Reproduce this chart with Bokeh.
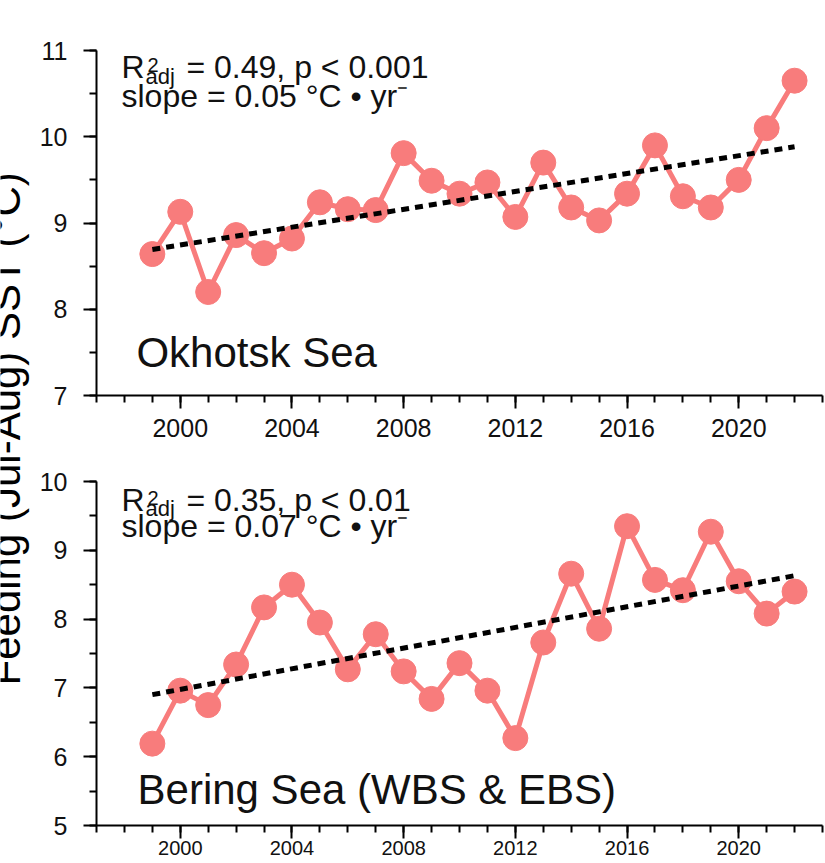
import numpy as np
from bokeh.plotting import figure
from bokeh.models import Range1d, SingleIntervalTicker, Label
from bokeh.layouts import column, row
from bokeh.embed import file_html
from bokeh.resources import INLINE

# ---------------- data ----------------
years = list(range(1999, 2023))
okhotsk_sst = [8.64, 9.13, 8.20, 8.86, 8.65, 8.82, 9.24, 9.16, 9.15, 9.81, 9.49, 9.34,
               9.47, 9.07, 9.70, 9.18, 9.03, 9.34, 9.90, 9.31, 9.18, 9.50, 10.10, 10.65]
bering_sst = [6.19, 6.96, 6.75, 7.34, 8.17, 8.50, 7.95, 7.27, 7.78, 7.24, 6.84, 7.36,
              6.96, 6.27, 7.66, 8.66, 7.86, 9.35, 8.57, 8.42, 9.27, 8.55, 8.08, 8.40]
okhotsk_r2 = "= 0.49, p < 0.001"
okhotsk_slope = "slope = 0.05 °C • yr⁻"
bering_r2 = "= 0.35, p < 0.01"
bering_slope = "slope = 0.07 °C • yr⁻"
panel_names = ["Okhotsk Sea", "Bering Sea (WBS & EBS)"]
y_title = "Feeding (Jul-Aug) SST (°C)"

FONT = "Liberation Sans"
SALMON = "#F87C7C"
LEFT_W = 32
W = 825 - LEFT_W


def make_panel(height, top, bottom, ymin, ymax, values, xlabel_size, xstandoff):
    p = figure(width=W, height=height,
               x_range=Range1d(1997, 2023), y_range=Range1d(ymin, ymax),
               output_backend="svg", toolbar_location=None,
               min_border_left=96 - LEFT_W, min_border_right=3,
               min_border_top=top, min_border_bottom=bottom)
    p.outline_line_color = None
    p.xgrid.visible = False
    p.ygrid.visible = False
    p.background_fill_color = "white"
    p.border_fill_color = "white"

    p.xaxis.ticker = SingleIntervalTicker(interval=4, num_minor_ticks=4)
    p.yaxis.ticker = SingleIntervalTicker(interval=1, num_minor_ticks=2)
    for ax in (p.xaxis, p.yaxis):
        ax.axis_line_width = 2
        ax.axis_line_color = "black"
        ax.major_tick_line_width = 2
        ax.minor_tick_line_width = 2
        ax.major_tick_line_color = "black"
        ax.minor_tick_line_color = "black"
        ax.major_tick_in = 0
        ax.minor_tick_in = 0
        ax.major_tick_out = 13
        ax.minor_tick_out = 7
        ax.major_label_text_font = FONT
        ax.major_label_text_font_size = "25px"
        ax.major_label_text_color = "#111111"
    p.yaxis.major_label_standoff = 16
    p.xaxis.major_label_standoff = xstandoff
    p.xaxis.major_label_text_font_size = xlabel_size

    p.line(years, values, line_color=SALMON, line_width=5)
    p.scatter(years, values, size=25, fill_color=SALMON, line_color=SALMON)

    slope, intercept = np.polyfit(years, values, 1)
    yrs = np.array([years[0], years[-1]], dtype=float)
    p.line(yrs, slope * yrs + intercept, line_color="black", line_width=5,
           line_dash="8 6")
    return p


def txt(p, x, y, text, size, dx=0, dy=0):
    # (x, y) is the text baseline; "bottom" anchors the descent line, so shift down
    p.add_layout(Label(x=x, y=y, x_offset=dx, y_offset=dy - 0.25 * size, text=text,
                       text_font=FONT, text_font_size=f"{size}px", text_color="#111111",
                       text_baseline="bottom", text_align="left"))


def add_stats(p, x, y_r2, y_slope, r2_text, slope_text):
    txt(p, x, y_r2, "R", 32)
    txt(p, x, y_r2, "2", 20, dx=26, dy=10)
    txt(p, x, y_r2, "adj", 22, dx=24, dy=-6)
    txt(p, x, y_r2, r2_text, 32, dx=65)
    txt(p, x, y_slope, slope_text, 32)


# ---------------- left strip holding the shared y title ----------------
pl = figure(width=LEFT_W, height=863, x_range=Range1d(0, LEFT_W), y_range=Range1d(0, 863),
            output_backend="svg", toolbar_location=None,
            x_axis_type=None, y_axis_type=None, min_border=0)
pl.outline_line_color = None
pl.xgrid.visible = False
pl.ygrid.visible = False
pl.add_layout(Label(x=28, y=863 - 428, text=y_title, angle=np.pi / 2,
                    text_align="center", text_baseline="bottom",
                    text_font=FONT, text_font_size="42px", text_color="black"))

# ---------------- top panel: Okhotsk ----------------
p1 = make_panel(455, 50, 60, 7, 11, okhotsk_sst, "25px", 10)
add_stats(p1, 1997.895, 10.687, 10.351, okhotsk_r2, okhotsk_slope)
txt(p1, 1998.43, 7.348, panel_names[0], 42)

# ---------------- bottom panel: Bering ----------------
p2 = make_panel(408, 26, 38, 5, 10, bering_sst, "20px", 2)
add_stats(p2, 1997.895, 9.586, 9.201, bering_r2, bering_slope)
txt(p2, 1998.47, 5.339, panel_names[1], 42)

layout = row(pl, column(p1, p2, spacing=0), spacing=0)
open("out.html", "w").write(file_html(layout, INLINE))
